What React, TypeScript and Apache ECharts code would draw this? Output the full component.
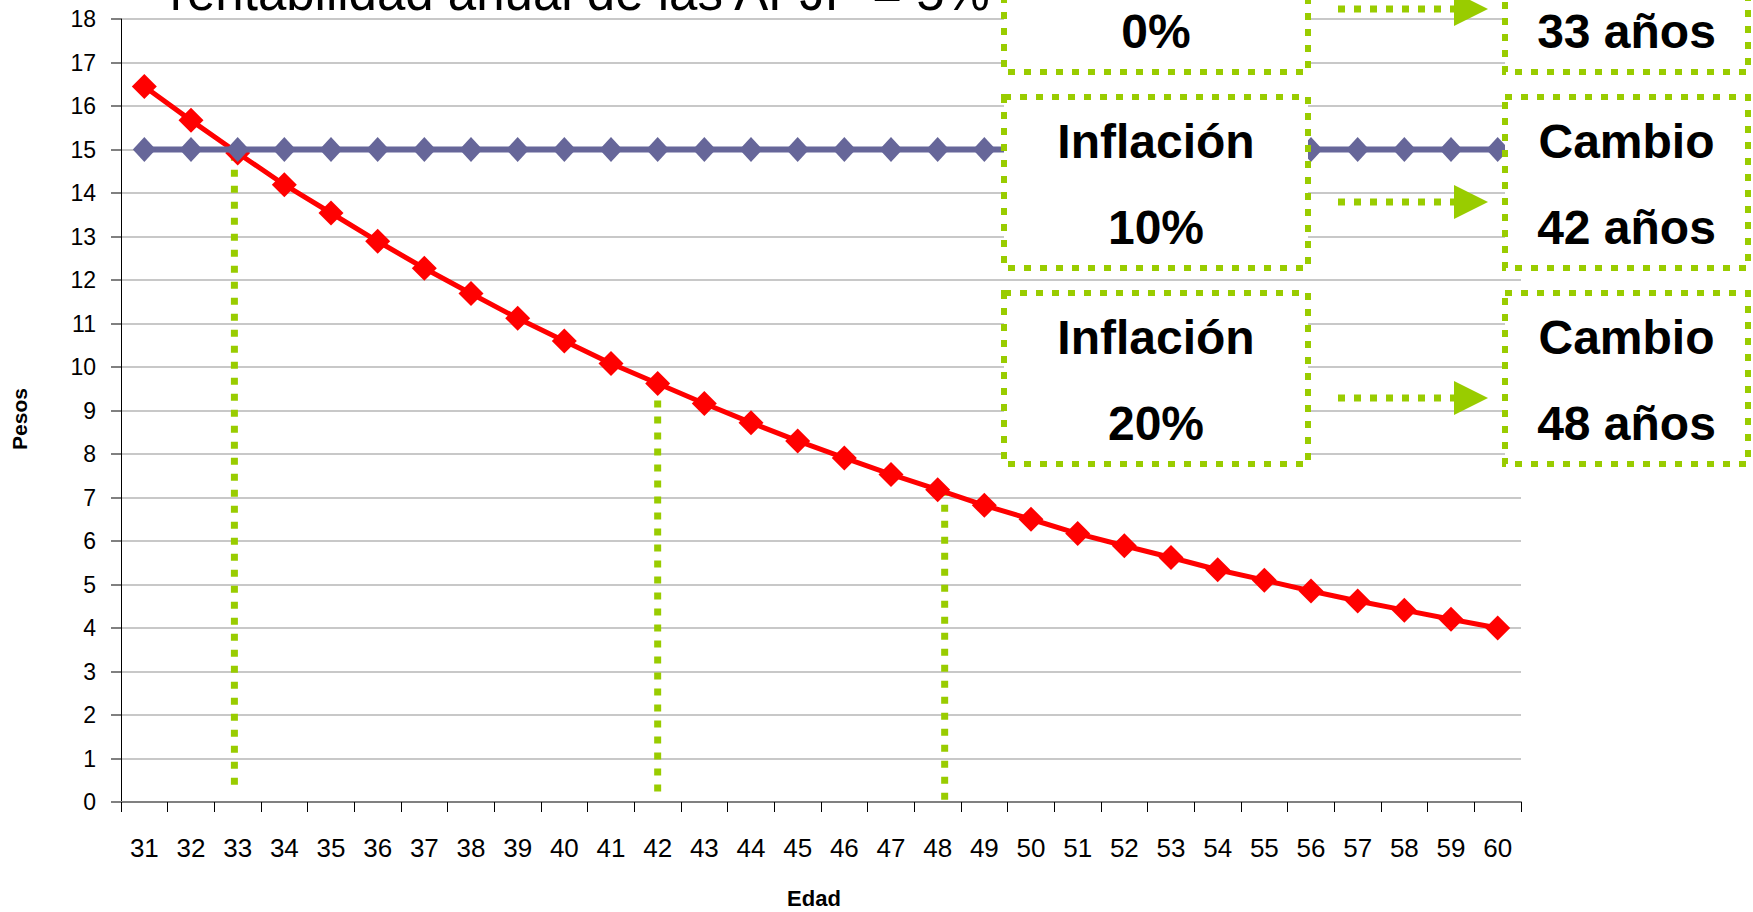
import React, { useEffect, useRef } from "react";
import * as echarts from "echarts";

// Ages shown on the category axis
const edades = [
  "31", "32", "33", "34", "35", "36", "37", "38", "39", "40",
  "41", "42", "43", "44", "45", "46", "47", "48", "49", "50",
  "51", "52", "53", "54", "55", "56", "57", "58", "59", "60",
];

// Constant amount in pesos
const valorConstante = [
  15, 15, 15, 15, 15, 15, 15, 15, 15, 15,
  15, 15, 15, 15, 15, 15, 15, 15, 15, 15,
  15, 15, 15, 15, 15, 15, 15, 15, 15, 15,
];

// Decreasing amount in pesos
const valorDecreciente = [
  16.45, 15.67, 14.92, 14.19, 13.54, 12.89, 12.27, 11.69, 11.12, 10.6,
  10.08, 9.62, 9.16, 8.72, 8.3, 7.91, 7.53, 7.18, 6.82, 6.5,
  6.17, 5.89, 5.62, 5.34, 5.1, 4.85, 4.62, 4.41, 4.2, 4.0,
];

// Vertical guides: age where each one sits, top and bottom values
const guiaEdad = [32.93, 42, 48.15];
const guiaTope = [14.9, 9.6, 7.2];
const guiaBase = [0.3, 0.2, 0];

// Box texts
const inflaciones = ["0%", "10%", "20%"];
const cambios = ["33 años", "42 años", "48 años"];

const VERDE = "#99CC00";
const SANS = "'Liberation Sans', Arial, sans-serif";

export default function App() {
  const ref = useRef<HTMLDivElement>(null);

  useEffect(() => {
    if (!ref.current) return;
    const chart = echarts.init(ref.current, undefined, { renderer: "svg" });

    const dash = [7, 9];
    const rowTops = [-99, 97, 293];
    const rowH = 171;
    const col1 = { x: 1004, w: 304 };
    const col3 = { x: 1505, w: 243 };
    const boxFont = `bold 48px ${SANS}`;

    const graphics: any[] = [];

    graphics.push({
      type: "text",
      left: 170,
      top: -33,
      z: 100,
      style: {
        text: "rentabilidad anual de las AFJP = 5%",
        font: `51px ${SANS}`,
        fill: "#000",
      },
    });

    // Axis titles
    graphics.push({
      type: "text",
      x: 19,
      y: 419,
      rotation: Math.PI / 2,
      z: 50,
      style: {
        text: "Pesos",
        font: `bold 21px ${SANS}`,
        fill: "#000",
        align: "center",
        verticalAlign: "middle",
      },
    });
    graphics.push({
      type: "text",
      x: 814,
      y: 898,
      z: 50,
      style: {
        text: "Edad",
        font: `bold 22px ${SANS}`,
        fill: "#000",
        align: "center",
        verticalAlign: "middle",
      },
    });

    rowTops.forEach((top, i) => {
      [col1, col3].forEach((c) => {
        graphics.push({
          type: "rect",
          z: 100,
          shape: { x: c.x, y: top, width: c.w, height: rowH },
          style: { fill: "#fff", stroke: VERDE, lineWidth: 6, lineDash: dash },
        });
      });
      const cy = top + rowH / 2;
      const texto = (t: string, x: number, y: number) => ({
        type: "text",
        z: 101,
        x,
        y,
        style: { text: t, font: boxFont, fill: "#000", align: "center", verticalAlign: "middle" },
      });
      if (i > 0) {
        graphics.push(texto("Inflación", col1.x + col1.w / 2, cy - 41));
        graphics.push(texto("Cambio", col3.x + col3.w / 2, cy - 41));
      }
      graphics.push(texto(inflaciones[i], col1.x + col1.w / 2, cy + 45));
      graphics.push(texto(cambios[i], col3.x + col3.w / 2, cy + 45));
    });

    // Arrows between the boxes
    [9, 202, 398].forEach((ay) => {
      graphics.push({
        type: "line",
        z: 100,
        shape: { x1: 1338, y1: ay, x2: 1456, y2: ay },
        style: { stroke: VERDE, lineWidth: 7, lineDash: dash },
      });
      graphics.push({
        type: "polygon",
        z: 100,
        shape: { points: [[1454, ay - 17], [1488, ay], [1454, ay + 17]] },
        style: { fill: VERDE },
      });
    });

    const guias = guiaEdad.map((e, i) => ({
      type: "line",
      xAxisIndex: 1,
      yAxisIndex: 0,
      z: 1,
      symbol: "none",
      silent: true,
      lineStyle: { color: VERDE, width: 7, type: dash },
      data: [
        [e, guiaTope[i]],
        [e, guiaBase[i]],
      ],
    }));

    chart.setOption({
      animation: false,
      backgroundColor: "#fff",
      grid: { left: 121, right: 232, top: 19, bottom: 110, containLabel: false },
      xAxis: [
        {
          type: "category",
          data: edades,
          boundaryGap: true,
          axisLine: { lineStyle: { color: "#808080", width: 2 } },
          axisTick: { show: true, alignWithLabel: false, length: 10, lineStyle: { color: "#000", width: 1 } },
          axisLabel: { fontFamily: SANS, fontSize: 26, color: "#000", margin: 33, interval: 0 },
          splitLine: { show: false },
        },
        {
          type: "value",
          min: 30.5,
          max: 60.5,
          show: false,
        },
      ],
      yAxis: {
        type: "value",
        min: 0,
        max: 18,
        interval: 1,
        axisLine: { show: true, lineStyle: { color: "#000", width: 1 } },
        axisTick: { show: true, length: 10, lineStyle: { color: "#808080", width: 2 } },
        axisLabel: { fontFamily: SANS, fontSize: 23, color: "#000", margin: 25 },
        splitLine: { show: true, lineStyle: { color: "#C8C8C8", width: 2 } },
      },
      series: [
        {
          name: "Decreciente",
          type: "line",
          data: valorDecreciente,
          symbol: "diamond",
          symbolSize: [25, 25],
          lineStyle: { color: "#FF0000", width: 5 },
          itemStyle: { color: "#FF0000" },
          z: 3,
        },
        {
          name: "Constante",
          type: "line",
          data: valorConstante,
          symbol: "diamond",
          symbolSize: [23, 25],
          lineStyle: { color: "#666699", width: 6 },
          itemStyle: { color: "#666699" },
          z: 4,
        },
        ...guias,
      ],
      graphic: graphics,
    });

    return () => chart.dispose();
  }, []);

  return (
    <div
      ref={ref}
      style={{ position: "fixed", left: 0, top: 0, width: 1753, height: 912, background: "#fff" }}
    />
  );
}
